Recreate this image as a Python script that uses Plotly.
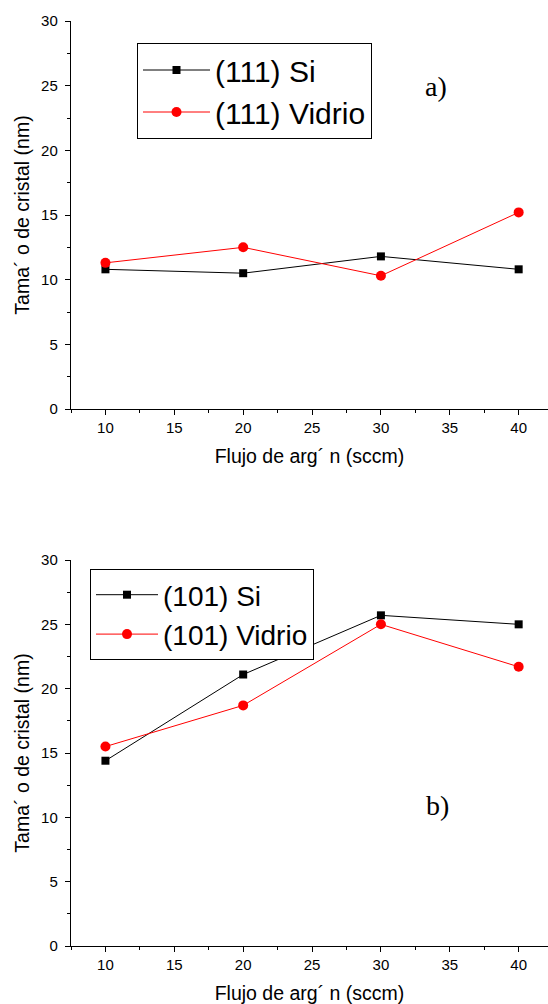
import plotly.graph_objects as go

# Argon flow (sccm)
flujo = [10, 20, 30, 40]

# Crystal size (nm), (111) plane
si_111 = [10.8, 10.5, 11.8, 10.8]
vidrio_111 = [11.3, 12.5, 10.3, 15.2]

# Crystal size (nm), (101) plane
si_101 = [14.4, 21.1, 25.7, 25.0]
vidrio_101 = [15.5, 18.7, 25.0, 21.7]

FONT = "Liberation Sans, Arial, sans-serif"
SERIF = "Liberation Serif, Times New Roman, serif"

W, H = 548, 1004
ML, MR, MT, MB = 71, 0, 21, 58

fig = go.Figure()


def add_pair(si, vid, si_name, vid_name, xa, ya, leg):
    fig.add_trace(go.Scatter(
        x=flujo, y=si, name=si_name, mode="lines+markers",
        line=dict(color="black", width=1),
        marker=dict(symbol="square", size=8, color="black"),
        xaxis=xa, yaxis=ya, legend=leg,
    ))
    fig.add_trace(go.Scatter(
        x=flujo, y=vid, name=vid_name, mode="lines+markers",
        line=dict(color="#ff0000", width=1),
        marker=dict(symbol="circle", size=10, color="#ff0000"),
        xaxis=xa, yaxis=ya, legend=leg,
    ))


add_pair(si_111, vidrio_111, "(111) Si", "(111) Vidrio", "x", "y", "legend")
add_pair(si_101, vidrio_101, "(101) Si", "(101) Vidrio", "x2", "y2", "legend2")

xtitle = "Flujo de arg\u00b4 n (sccm)"
ytitle = "Tama\u00b4 o de cristal (nm)"

axis_common = dict(
    showline=True, linecolor="black", linewidth=1.4,
    ticks="outside", ticklen=5, tickwidth=1.2, tickcolor="black",
    showgrid=False, zeroline=False,
    tickfont=dict(family=FONT, size=15, color="black"),
)
minor_ticks = dict(ticks="outside", ticklen=3, dtick=2.5, tick0=0,
                   tickcolor="black", tickwidth=1.2)
xcommon = dict(
    axis_common, range=[7.5, 42.13], dtick=5, tick0=0, minor=minor_ticks,
    title=dict(text=xtitle, font=dict(family=FONT, size=19.5, color="black"),
               standoff=14),
)
ycommon = dict(
    axis_common, range=[0, 30], dtick=5, tick0=0, minor=minor_ticks,
    ticklabelstandoff=4,
    title=dict(text=ytitle, font=dict(family=FONT, size=19.5, color="black"),
               standoff=6),
)

plot_h = H - MT - MB
top_lo = (H - MB - 409) / plot_h
bot_hi = (H - MB - 560) / plot_h

fig.update_layout(
    width=W, height=H,
    margin=dict(l=ML, r=MR, t=MT, b=MB),
    paper_bgcolor="white", plot_bgcolor="white",
    font=dict(family=FONT, color="black"),
    xaxis=dict(xcommon, domain=[0, 1], anchor="y"),
    yaxis=dict(ycommon, domain=[top_lo, 1], anchor="x"),
    xaxis2=dict(xcommon, domain=[0, 1], anchor="y2"),
    yaxis2=dict(ycommon, domain=[0, bot_hi], anchor="x2"),
    legend=dict(
        x=(137 - ML) / (W - ML), y=(H - MB - 43) / plot_h,
        xanchor="left", yanchor="top",
        bordercolor="black", borderwidth=1, bgcolor="white",
        font=dict(family=FONT, size=30, color="black"),
        tracegroupgap=0, itemwidth=67,
    ),
    legend2=dict(
        x=(90 - ML) / (W - ML), y=(H - MB - 569) / plot_h,
        xanchor="left", yanchor="top",
        bordercolor="black", borderwidth=1, bgcolor="white",
        font=dict(family=FONT, size=28, color="black"),
        tracegroupgap=0, itemwidth=62,
    ),
    annotations=[
        dict(text="a)", x=34.0, y=24.9, xref="x", yref="y", showarrow=False,
             font=dict(family=SERIF, size=28, color="black")),
        dict(text="b)", x=34.1, y=10.9, xref="x2", yref="y2", showarrow=False,
             font=dict(family=SERIF, size=28, color="black")),
    ],
    showlegend=True,
)

fig.write_html("out.html")
